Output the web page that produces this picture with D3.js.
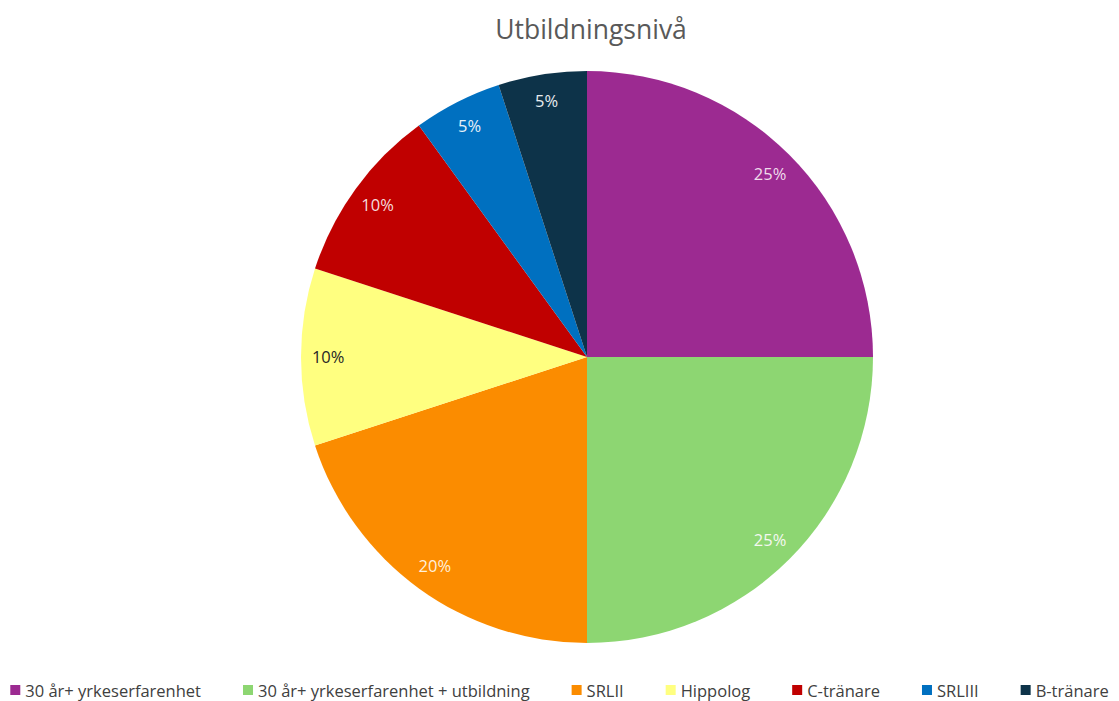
<!DOCTYPE html>
<html>
<head>
<meta charset="utf-8">
<script src="https://cdn.jsdelivr.net/npm/d3@7"></script>
<style>
  html, body { margin: 0; padding: 0; background: #ffffff; }
  svg { display: block; }
</style>
</head>
<body>
<svg id="chart" width="1119" height="701"></svg>
<script>
// Utbildningsnivå – andel per kategori (procent)
const categories = [
  "30 år+ yrkeserfarenhet",
  "30 år+ yrkeserfarenhet + utbildning",
  "SRLII",
  "Hippolog",
  "C-tränare",
  "SRLIII",
  "B-tränare"
];
const shares = [25, 25, 20, 10, 10, 5, 5];
const sliceColors = ["#9c2a91", "#8dd672", "#fb8c00", "#ffff80", "#c00000", "#0070c0", "#0d3349"];
const labelColors = ["#f0dcec", "#f4f8f0", "#fff0dc", "#262626", "#f4dcdc", "#e8f0f8", "#e8ecef"];
const chartTitle = "Utbildningsnivå";

const width = 1119, height = 701;
const cx = 587, cy = 357, radius = 286;
const fontFamily = "'Open Sans', 'Noto Sans', sans-serif";

const svg = d3.select("#chart");

// Title
svg.append("text")
  .attr("x", 591)
  .attr("y", 39)
  .attr("text-anchor", "middle")
  .attr("font-family", fontFamily)
  .attr("font-size", 26.5)
  .attr("fill", "#595959")
  .text(chartTitle);

const color = d3.scaleOrdinal().domain(categories).range(sliceColors);
const labelColor = d3.scaleOrdinal().domain(categories).range(labelColors);

const pie = d3.pie().sort(null).value(d => d.value);
const data = categories.map((c, i) => ({ name: c, value: shares[i] }));
const arcs = pie(data);

const arc = d3.arc().innerRadius(0).outerRadius(radius);
const labelArc = d3.arc().innerRadius(radius * 0.905).outerRadius(radius * 0.905);

const g = svg.append("g").attr("transform", `translate(${cx},${cy})`);

g.selectAll("path.slice")
  .data(arcs)
  .join("path")
  .attr("class", "slice")
  .attr("d", arc)
  .attr("fill", d => color(d.data.name));

const total = d3.sum(shares);
g.selectAll("text.pct")
  .data(arcs)
  .join("text")
  .attr("class", "pct")
  .attr("transform", d => `translate(${labelArc.centroid(d)})`)
  .attr("text-anchor", "middle")
  .attr("dy", "0.35em")
  .attr("font-family", fontFamily)
  .attr("font-size", 16.5)
  .attr("fill", d => labelColor(d.data.name))
  .text(d => d3.format(".0%")(d.data.value / total));

// Legend along the bottom, one row
const legendY = 691;
const swatch = 10, swatchGap = 5, itemGap = 42;
const legend = svg.append("g");
const items = legend.selectAll("g.item")
  .data(categories)
  .join("g")
  .attr("class", "item");

items.append("rect")
  .attr("width", swatch)
  .attr("height", swatch)
  .attr("y", legendY - swatch / 2 - 1)
  .attr("fill", d => color(d));

items.append("text")
  .attr("x", swatch + swatchGap)
  .attr("y", legendY)
  .attr("dy", "0.35em")
  .attr("font-family", fontFamily)
  .attr("font-size", 16.5)
  .attr("fill", "#404040")
  .text(d => d);

let xPos = 0;
const offsets = [];
items.each(function () {
  const w = swatch + swatchGap + d3.select(this).select("text").node().getComputedTextLength();
  offsets.push(xPos);
  xPos += w + itemGap;
});
const rowWidth = xPos - itemGap;
const startX = (width - rowWidth) / 2;
items.attr("transform", (d, i) => `translate(${startX + offsets[i]},0)`);
</script>
</body>
</html>
